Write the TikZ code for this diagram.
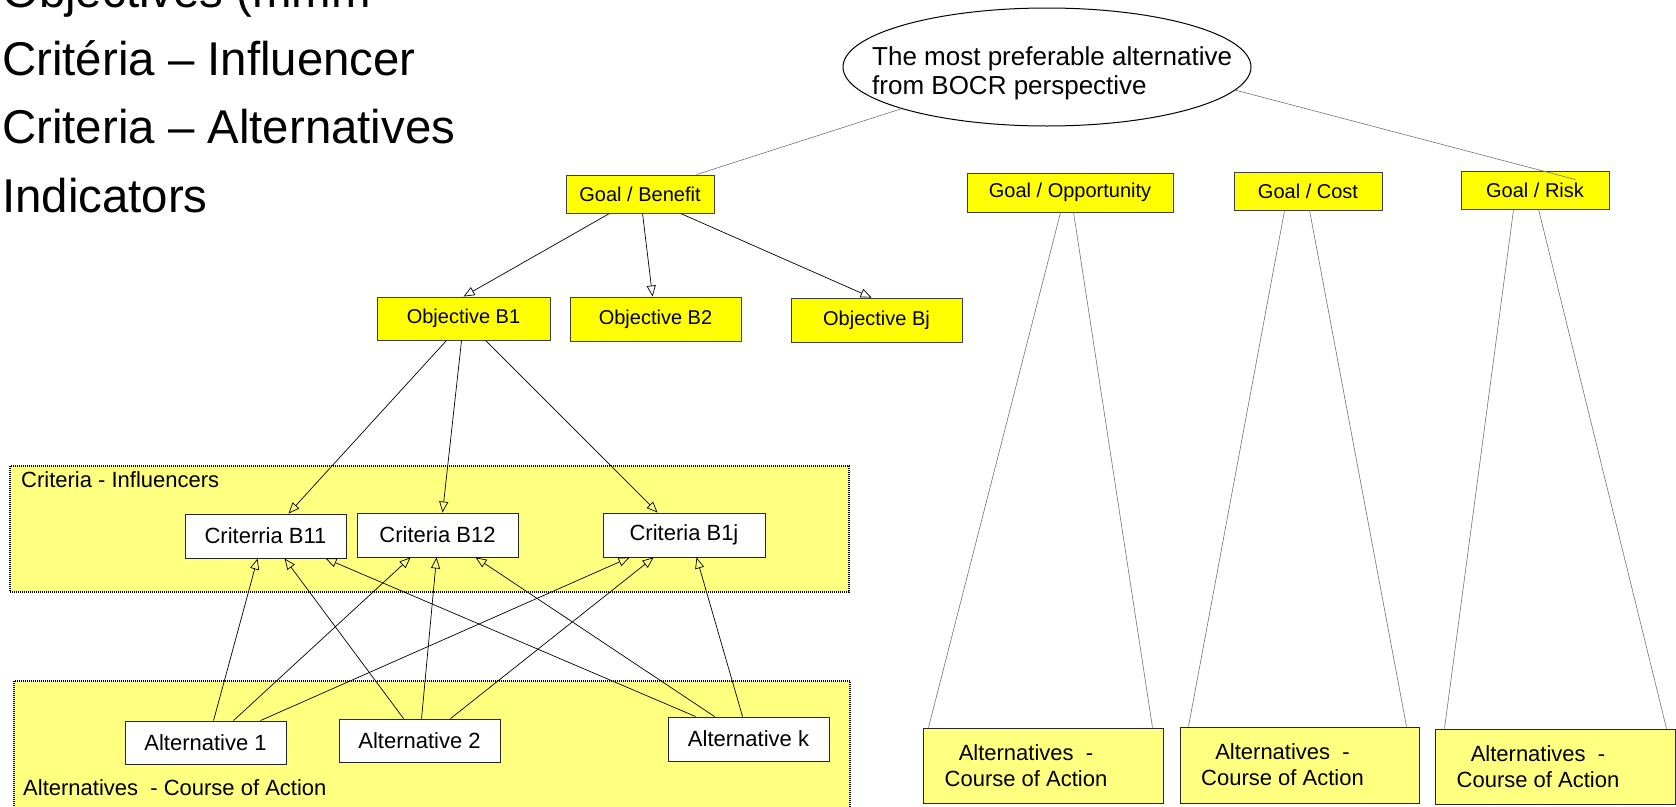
\documentclass[tikz,border=0pt]{standalone}
\usepackage{fontspec}
\setmainfont{Liberation Sans}
\usetikzlibrary{arrows.meta,shapes.geometric,calc}
\definecolor{lightyel}{RGB}{255,255,128}
\definecolor{goalyel}{RGB}{255,255,0}
\begin{document}
\begin{tikzpicture}[x=1pt,y=-1pt,
  goalbox/.style={draw=black!75, line width=0.9pt, fill=goalyel, inner sep=0pt, font=\fontsize{20}{24}\selectfont},
  critbox/.style={draw=black!85, line width=0.9pt, fill=white, inner sep=0pt, font=\fontsize{22}{26}\selectfont},
  altbox/.style={draw=black!85, line width=1pt, fill=lightyel, inner sep=0pt},
  band/.style={fill=lightyel, draw=black, line width=1.5pt, dash pattern=on 1pt off 1pt},
  arr/.style={draw=black, line width=0.7pt, -{Triangle[open,length=11pt,width=9pt]}},
  gline/.style={draw=black!55, line width=0.6pt},
  bigtxt/.style={anchor=base west, inner sep=0pt, font=\fontsize{47.4}{56}\selectfont},
  lbl/.style={anchor=base west, inner sep=0pt, font=\fontsize{22}{26}\selectfont},
  alttxt/.style={align=center, inner sep=0pt, font=\fontsize{22}{26}\selectfont}
]
\useasboundingbox (0,0) rectangle (1676,806);
\clip (0,0) rectangle (1676,806);

% top-left text
\node[bigtxt] (t1) at (2,7) {Objectives (mmm};
\node[bigtxt] (t2) at (2,75) {Critéria – Influencer};
\node[bigtxt] (t3) at (2,143.5) {Criteria – Alternatives};
\node[bigtxt] (t4) at (2,212) {Indicators};

% bands
\path[band] (10,466) rectangle (849,592);
\path[band] (14,681) rectangle (850,830);
\node[lbl] (lblc) at (21,487) {Criteria - Influencers};
\node[lbl] (lbla) at (23,795) {Alternatives\ \ - Course of Action};

% ellipse
\node[ellipse, draw=black, line width=1pt, fill=white, minimum width=408pt, minimum height=118pt, inner sep=0pt] (ell) at (1047,67) {};
\node[anchor=west, align=left, inner sep=0pt, font=\fontsize{26}{29}\selectfont] (ellt) at (872,73) {The most preferable alternative\\from BOCR perspective};

% goal boxes
\node[goalbox, minimum width=148pt, minimum height=38pt] (gb) at (640,194) {Goal / Benefit};
\node[goalbox, minimum width=206pt, minimum height=39pt] (go) at (1070,192.5) {Goal / Opportunity};
\node[goalbox, minimum width=148pt, minimum height=38pt] (gc) at (1308,191) {Goal / Cost};
\node[goalbox, minimum width=148pt, minimum height=38pt] (gr) at (1535,190) {Goal / Risk};

% objectives
\node[goalbox, minimum width=173pt, minimum height=43pt] (ob1) at (463.5,318.5) {Objective B1};
\node[goalbox, minimum width=171pt, minimum height=44pt] (ob2) at (655.5,319) {Objective B2};
\node[goalbox, minimum width=171pt, minimum height=44pt] (obj) at (876.5,320) {Objective Bj};

% criteria
\node[critbox, minimum width=161pt, minimum height=44pt] (c11) at (265.5,536) {Criterria B11};
\node[critbox, minimum width=161pt, minimum height=44pt] (c12) at (437.5,535) {Criteria B12};
\node[critbox, minimum width=162pt, minimum height=44pt] (c1j) at (684,535) {Criteria B1j};

% alternatives
\node[critbox, minimum width=161pt, minimum height=43pt] (a1) at (205.5,742.5) {Alternative 1};
\node[critbox, minimum width=161pt, minimum height=43pt] (a2) at (419.5,740.5) {Alternative 2};
\node[critbox, minimum width=161pt, minimum height=44pt] (ak) at (748.5,739) {Alternative k};

% right bottom boxes
\node[altbox, minimum width=240pt, minimum height=75pt] (r1) at (1043,765.5) {};
\node[altbox, minimum width=239pt, minimum height=76pt] (r2) at (1299.5,765) {};
\node[altbox, minimum width=240pt, minimum height=75pt] (r3) at (1555,766.5) {};
\node[alttxt] (r1t) at ($(r1.center)+(-17,0)$) {Alternatives\ \ -\\Course of Action};
\node[alttxt] (r2t) at ($(r2.center)+(-17,0)$) {Alternatives\ \ -\\Course of Action};
\node[alttxt] (r3t) at ($(r3.center)+(-17,0)$) {Alternatives\ \ -\\Course of Action};

% gray lines
\draw[gline] (ell.196) -- ($(gb.north west)+(131,0)$);
\draw[gline] (ell.-7) -- ($(gr.north west)+(115,9)$);
\draw[gline] ($(go.south west)+(94,0)$) -- ($(r1.north west)+(6,0)$);
\draw[gline] ($(go.south west)+(107,0)$) -- ($(r1.north west)+(230,0)$);
\draw[gline] ($(gc.south west)+(51,0)$) -- ($(r2.north west)+(9,0)$);
\draw[gline] ($(gc.south west)+(76,0)$) -- ($(r2.north west)+(227,0)$);
\draw[gline] ($(gr.south west)+(53,0)$) -- ($(r3.north west)+(10,0)$);
\draw[gline] ($(gr.south west)+(78,0)$) -- ($(r3.north west)+(232,0)$);

% goal -> objectives
\draw[arr] ($(gb.south west)+(44,0)$) -- ($(ob1.north west)+(87,0)$);
\draw[arr] ($(gb.south west)+(77,0)$) -- ($(ob2.north west)+(83,0)$);
\draw[arr] ($(gb.south west)+(115,0)$) -- ($(obj.north west)+(81,0)$);

% objective -> criteria
\draw[arr] ($(ob1.south west)+(70,0)$) -- ($(c11.north west)+(104,0)$);
\draw[arr] ($(ob1.south west)+(85,0)$) -- ($(c12.north west)+(86,0)$);
\draw[arr] ($(ob1.south west)+(109,0)$) -- ($(c1j.north west)+(55,0)$);

% alternatives -> criteria
\draw[arr] ($(a1.north west)+(89,0)$) -- ($(c11.south west)+(73,0)$);
\draw[arr] ($(a1.north west)+(109,0)$) -- ($(c12.south west)+(54,0)$);
\draw[arr] ($(a1.north west)+(136,0)$) -- ($(c1j.south west)+(27,0)$);
\draw[arr] ($(a2.north west)+(65,0)$) -- ($(c11.south west)+(100,0)$);
\draw[arr] ($(a2.north west)+(83,0)$) -- ($(c12.south west)+(80,0)$);
\draw[arr] ($(a2.north west)+(112,0)$) -- ($(c1j.south west)+(51,0)$);
\draw[arr] ($(ak.north west)+(28,0)$) -- ($(c11.south west)+(141,0)$);
\draw[arr] ($(ak.north west)+(47,0)$) -- ($(c12.south west)+(119,0)$);
\draw[arr] ($(ak.north west)+(75,0)$) -- ($(c1j.south west)+(94,0)$);
\end{tikzpicture}
\end{document}
